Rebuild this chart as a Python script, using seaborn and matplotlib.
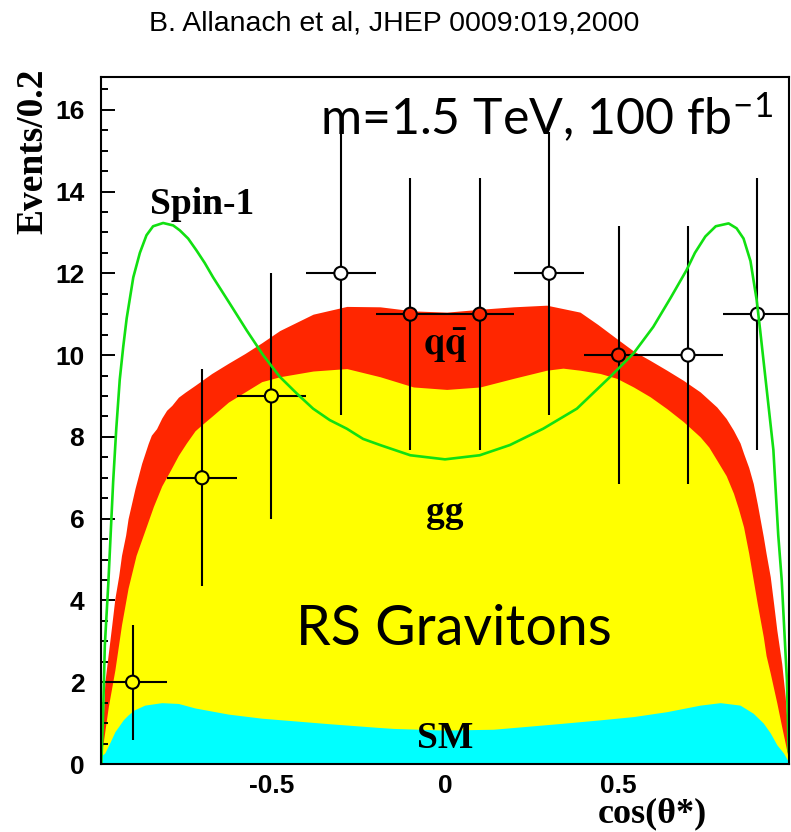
import numpy as np
import pandas as pd
import matplotlib
matplotlib.use("Agg")
import matplotlib.pyplot as plt
import seaborn as sns

# ---------------- data ----------------
sm_x = [-0.99, -0.98, -0.964, -0.951, -0.941, -0.927, -0.913, -0.896, -0.865, -0.816,
        -0.768, -0.72, -0.624, -0.528, -0.441, -0.341, -0.2, -0.149, 0.0, 0.139,
        0.331, 0.447, 0.543, 0.639, 0.735, 0.793, 0.85, 0.888, 0.917, 0.937,
        0.956, 0.975, 0.99]
sm_y = [0.20, 0.27, 0.55, 0.79, 0.91, 1.08, 1.20, 1.32, 1.44, 1.50,
        1.48, 1.37, 1.22, 1.12, 1.06, 0.99, 0.90, 0.87, 0.83, 0.85,
        0.99, 1.08, 1.16, 1.28, 1.44, 1.50, 1.44, 1.24, 1.00, 0.76,
        0.47, 0.27, 0.05]

gg_x = [-0.99, -0.985, -0.97, -0.951, -0.932, -0.913, -0.89, -0.865, -0.84, -0.816,
        -0.79, -0.768, -0.745, -0.72, -0.7, -0.672, -0.624, -0.576, -0.528, -0.476,
        -0.38, -0.283, -0.187, -0.091, 0.005, 0.101, 0.197, 0.293, 0.34, 0.389,
        0.447, 0.495, 0.543, 0.591, 0.639, 0.687, 0.735, 0.76, 0.783, 0.81,
        0.831, 0.845, 0.86, 0.875, 0.888, 0.90, 0.917, 0.925, 0.937, 0.956,
        0.97, 0.98, 0.99]
gg_y = [0.30, 0.50, 1.40, 2.30, 3.40, 4.30, 5.10, 5.70, 6.30, 6.80,
        7.20, 7.55, 7.85, 8.15, 8.30, 8.50, 8.85, 9.10, 9.35, 9.47,
        9.61, 9.67, 9.47, 9.22, 9.16, 9.22, 9.43, 9.63, 9.68, 9.63,
        9.55, 9.43, 9.22, 8.98, 8.69, 8.37, 8.00, 7.75, 7.43, 7.05,
        6.62, 6.25, 5.80, 5.15, 4.50, 3.90, 3.11, 2.65, 2.22, 1.49,
        0.91, 0.51, 0.10]

qq_x = [-0.99, -0.985, -0.98, -0.97, -0.96, -0.951, -0.94, -0.932, -0.92, -0.913,
        -0.893, -0.874, -0.855, -0.846, -0.831, -0.816, -0.802, -0.787, -0.768, -0.749,
        -0.72, -0.672, -0.624, -0.576, -0.528, -0.476, -0.38, -0.283, -0.187, -0.091,
        0.005, 0.101, 0.197, 0.293, 0.389, 0.44, 0.495, 0.543, 0.591, 0.639,
        0.687, 0.735, 0.783, 0.81, 0.831, 0.85, 0.86, 0.875, 0.888, 0.90,
        0.917, 0.925, 0.937, 0.947, 0.956, 0.97, 0.98, 0.989]
qq_y = [0.40, 1.00, 2.00, 2.70, 3.40, 4.05, 4.60, 5.10, 5.60, 6.00,
        6.74, 7.35, 7.84, 8.04, 8.20, 8.46, 8.65, 8.77, 8.97, 9.09,
        9.26, 9.55, 9.80, 10.04, 10.30, 10.60, 11.00, 11.19, 11.18, 11.08,
        11.05, 11.12, 11.18, 11.22, 11.05, 10.75, 10.40, 10.10, 9.87, 9.63,
        9.38, 9.10, 8.73, 8.45, 8.16, 7.85, 7.60, 7.25, 6.86, 6.35,
        5.56, 5.15, 4.58, 3.90, 3.27, 2.46, 1.65, 0.60]

spin1_x = [-0.99, -0.985, -0.98, -0.97, -0.956, -0.947, -0.937, -0.927, -0.917, -0.898,
           -0.879, -0.86, -0.841, -0.812, -0.783, -0.764, -0.74, -0.716, -0.692, -0.668,
           -0.644, -0.62, -0.571, -0.524, -0.476, -0.427, -0.38, -0.332, -0.283, -0.236,
           -0.187, -0.1, 0.0, 0.1, 0.187, 0.283, 0.38, 0.476, 0.543, 0.6,
           0.65, 0.696, 0.72, 0.75, 0.78, 0.817, 0.84, 0.86, 0.88, 0.898,
           0.908, 0.927, 0.946, 0.96, 0.97, 0.985, 0.99]
spin1_y = [0.0, 1.2, 2.9, 4.4, 6.9, 8.2, 9.4, 10.2, 10.9, 11.9,
           12.5, 12.93, 13.15, 13.23, 13.17, 13.05, 12.85, 12.56, 12.25, 11.9,
           11.58, 11.26, 10.6, 10.0, 9.47, 9.06, 8.69, 8.41, 8.2, 7.95,
           7.8, 7.55, 7.45, 7.55, 7.8, 8.2, 8.69, 9.47, 10.04, 10.69,
           11.4, 12.08, 12.5, 12.9, 13.15, 13.22, 13.1, 12.85, 12.3, 11.34,
           10.6, 9.14, 7.68, 5.6, 4.5, 2.05, 0.3]

data_x = [-0.9, -0.7, -0.5, -0.3, -0.1, 0.1, 0.3, 0.5, 0.7, 0.9]
data_y = [2, 7, 9, 12, 11, 11, 12, 10, 10, 11]
data_yerr = [1.41, 2.65, 3.0, 3.46, 3.32, 3.32, 3.46, 3.16, 3.16, 3.32]
data_xerr = [0.1] * 10
marker_face = ['#ffff00', '#ffff00', '#ffff00', 'white', '#ff2600',
               '#ff2600', 'white', '#ff2600', 'white', 'white']

xticks_major = [-0.5, 0, 0.5]
xtick_labels = ['-0.5', '0', '0.5']
yticks_major = [0, 2, 4, 6, 8, 10, 12, 14, 16]

# ---------------- style ----------------
sns.set_style("ticks")
plt.rcParams['mathtext.fontset'] = 'stix'
plt.rcParams['font.family'] = ['Liberation Sans', 'DejaVu Sans']
plt.rcParams['text.color'] = 'black'
plt.rcParams['axes.labelcolor'] = 'black'
plt.rcParams['xtick.color'] = 'black'
plt.rcParams['ytick.color'] = 'black'

RED = '#ff2600'
YELLOW = '#ffff00'
CYAN = '#00ffff'
GREEN = '#11e011'

fig = plt.figure(figsize=(7.91, 8.32), dpi=100)
ax = fig.add_axes([101 / 791, 68 / 832, 688 / 791, 687 / 832])

# stacked distributions (cumulative totals drawn back to front)
ax.fill_between(qq_x, 0, qq_y, color=RED, lw=0, zorder=1)
ax.fill_between(gg_x, 0, gg_y, color=YELLOW, lw=0, zorder=2)
ax.fill_between(sm_x, 0, sm_y, color=CYAN, lw=0, zorder=3)

# pseudo-data
ax.errorbar(data_x, data_y, xerr=data_xerr, yerr=data_yerr, fmt='none',
            ecolor='black', elinewidth=1.5, capsize=0, zorder=5)
ax.scatter(data_x, data_y, s=9.4 ** 2, c=marker_face, edgecolors='black',
           linewidths=1.5, zorder=6)

# spin-1 curve
spin_df = pd.DataFrame({'x': spin1_x, 'y': spin1_y})
sns.lineplot(data=spin_df, x='x', y='y', sort=False, estimator=None,
             color=GREEN, lw=1.9, ax=ax, zorder=7)

ax.set_xlim(-0.991, 0.991)
ax.set_ylim(0, 16.8)

ax.set_xticks(xticks_major)
ax.set_xticklabels(xtick_labels)
ax.set_xticks(np.arange(-0.9, 0.95, 0.1), minor=True)
ax.set_yticks(yticks_major)
ax.set_yticks(np.arange(0, 16.8, 0.5), minor=True)
ax.tick_params(which='both', direction='in', color='black', width=1.4,
               top=False, right=False)
ax.tick_params(which='major', length=10)
ax.tick_params(which='minor', length=5)
ax.tick_params(axis='y', which='major', pad=12)
ax.tick_params(axis='x', which='major', pad=7)
for lab in ax.get_xticklabels() + ax.get_yticklabels():
    lab.set_fontfamily('Liberation Sans')
    lab.set_fontweight('bold')
    lab.set_fontsize(19)
    lab.set_color('black')
for sp in ax.spines.values():
    sp.set_visible(True)
    sp.set_linewidth(1.5)
    sp.set_color('black')
    sp.set_zorder(10)
ax.set_axisbelow(False)

serif_bold = dict(family='Liberation Serif', fontweight='bold', fontsize=27, color='black')
ax.set_xlabel('cos(θ*)', family='Liberation Serif', fontweight='bold', fontsize=26,
              color='black')
ax.xaxis.set_label_coords(0.801, (764 - 830) / 687)
ax.xaxis.label.set_va('bottom')
ax.set_ylabel('Events/0.2', **serif_bold)
ax.yaxis.set_label_coords(-0.099, 0.892)
ax.yaxis.label.set_va('center')

ax.text(-0.70, 13.45, 'Spin-1', ha='center', va='baseline', zorder=8, **serif_bold)
ax.text(0.0, 10.0, r'$\mathbf{q\bar{q}}$', ha='center', va='baseline', fontsize=28,
        color='black', zorder=8)
ax.text(0.0, 5.92, 'gg', ha='center', va='baseline', zorder=8, **serif_bold)
ax.text(0.0, 0.39, 'SM', ha='center', va='baseline', zorder=8, **serif_bold)

ax.text(0.025, 2.91, 'RS Gravitons', ha='center', va='baseline', family='Lato',
        fontsize=40, color='black', zorder=8)
ax.text(-0.36, 15.38, r'm=1.5 TeV, 100 fb$^{\mathregular{-1}}$', ha='left',
        va='baseline', family='Lato', fontsize=36, color='black', zorder=8)

fig.text(394 / 791, 1 - 31 / 832, 'B. Allanach et al, JHEP 0009:019,2000',
         ha='center', va='baseline', family='Liberation Sans', fontsize=20.5,
         color='black')

fig.savefig('out.png', dpi=100)
